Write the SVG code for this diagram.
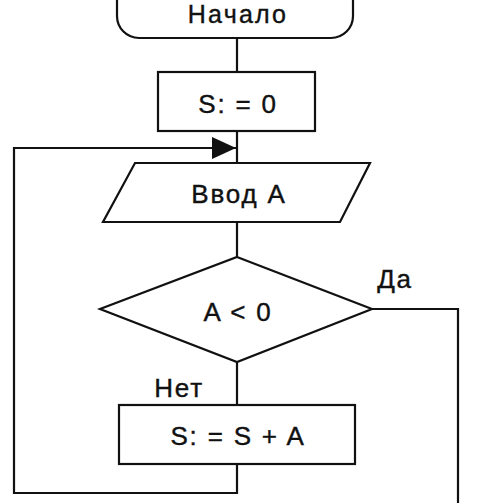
<svg xmlns="http://www.w3.org/2000/svg" width="500" height="503" viewBox="0 0 500 503">
<style>
.s{fill:#fff;stroke:#111;stroke-width:2.2}
.c{fill:none;stroke:#111;stroke-width:2.2}
text{font-family:"Liberation Sans",Arial,sans-serif;font-size:26px;letter-spacing:1.8px;fill:#111;stroke:#111;stroke-width:0.4;text-anchor:middle}
</style>
<defs>
<marker id="ah" markerWidth="24" markerHeight="22" refX="24" refY="11" orient="auto" markerUnits="userSpaceOnUse">
<path d="M0,0 L24,11 L0,22 Z" fill="#111"/>
</marker>
</defs>
<rect width="500" height="503" fill="#fff"/>
<g id="connectors">
<line class="c" x1="237" y1="38" x2="237" y2="72"/>
<line class="c" x1="237" y1="131" x2="237" y2="163"/>
<line class="c" x1="237" y1="222" x2="237" y2="257"/>
<line class="c" x1="237" y1="362" x2="237" y2="405"/>
<polyline class="c" points="237,464 237,493 14,493 14,148 236,148" marker-end="url(#ah)"/>
<polyline class="c" points="372,309 458,309 458,503"/>
<text x="395" y="288">Да</text>
<text x="179" y="397">Нет</text>
</g>
<g id="start">
<rect class="s" x="117" y="-22" width="236" height="60" rx="22" ry="22"/>
<text x="238" y="23" style="font-size:25px;letter-spacing:2.2px">Начало</text>
</g>
<g id="init">
<rect class="s" x="158" y="72" width="157" height="59"/>
<text x="238" y="113">S: = 0</text>
</g>
<g id="input">
<polygon class="s" points="135,163 370,163 340,222 103,222"/>
<text x="239" y="203">Ввод A</text>
</g>
<g id="cond">
<polygon class="s" points="237,257 372,309 237,362 100,309"/>
<text x="238" y="321">A &lt; 0</text>
</g>
<g id="sum">
<rect class="s" x="119" y="405" width="236" height="59"/>
<text x="238" y="445">S: = S + A</text>
</g>
</svg>
